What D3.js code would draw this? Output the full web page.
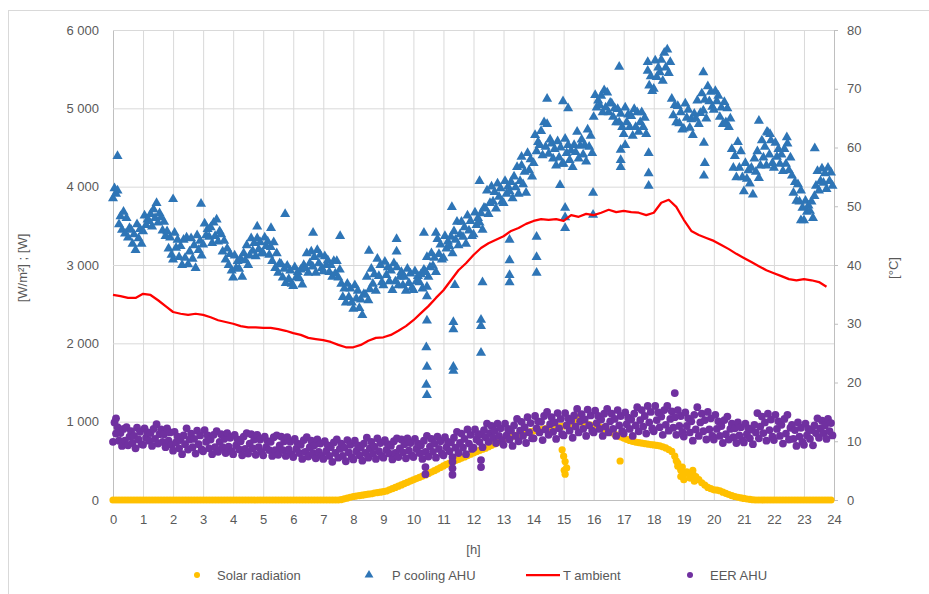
<!DOCTYPE html>
<html>
<head>
<meta charset="utf-8">
<script src="https://cdn.jsdelivr.net/npm/d3@7/dist/d3.min.js"></script>
<style>
    body { margin: 0; background: #fff; }
    svg text { font-family: "Liberation Sans", Arial, sans-serif; fill: #595959; }
</style>
</head>
<body>
<div id="chart"></div>
<script>

var hourTicks = [0, 1, 2, 3, 4, 5, 6, 7, 8, 9, 10, 11, 12, 13, 14, 15, 16, 17, 18, 19, 20, 21, 22, 23, 24];
var leftTicks = [0, 1000, 2000, 3000, 4000, 5000, 6000];
var rightTicks = [0, 10, 20, 30, 40, 50, 60, 70, 80];
var seriesNames = ['Solar radiation', 'P cooling AHU', 'T ambient', 'EER AHU'];
var axisTitles = {x: '[h]', left: '[W/m²] ; [W]', right: '[°C]'};

// sample steps in hours
var coolingStep = 0.05;
var eerStep = 0.05;
var solarStep = 0.1;
var tempStep = 0.25;

// P cooling AHU [W], one row per hour
var pCooling = [
    3850, 3980, 3910, 3950, 3520, 3620, 3450, 3680, 3400, 3600, 3350, 3470, 3450, 3270, 3390, 3190, 3520, 3340, 3460, 3270,
    3430, 3630, 3510, 3580, 3560, 3650, 3490, 3710, 3600, 3790, 3540, 3660, 3610, 3440, 3550, 3370, 3430, 3210, 3350, 3130,
    3070, 3410, 3220, 3320, 3100, 3240, 3000, 3320, 3090, 3350, 3010, 3170, 3340, 3080, 3250, 2960, 3380, 3190, 3310, 3120,
    3260, 3530, 3380, 3460, 3360, 3480, 3280, 3540, 3370, 3580, 3300, 3430, 3390, 3170, 3310, 3070, 3210, 3000, 3140, 2930,
    2840, 3120, 2960, 3050, 2950, 3080, 2850, 3150, 3060, 3250, 3000, 3120, 3340, 3180, 3280, 3110, 3340, 3200, 3290, 3150,
    3150, 3350, 3240, 3300, 3130, 3230, 3050, 3290, 2960, 3150, 2900, 3020, 3010, 2840, 2950, 2770, 2990, 2820, 2930, 2760,
    2730, 2970, 2840, 2910, 2830, 2940, 2750, 3000, 2960, 3150, 2900, 3020, 3170, 2980, 3100, 2900, 3190, 3020, 3130, 2960,
    2920, 3110, 3000, 3060, 2910, 3000, 2850, 3050, 2890, 3050, 2840, 2940, 2760, 2590, 2700, 2520, 2760, 2590, 2700, 2520,
    2440, 2740, 2570, 2670, 2450, 2560, 2360, 2630, 2620, 2850, 2550, 2690, 2950, 2760, 2880, 2670, 3080, 2860, 3000, 2780,
    2740, 3040, 2870, 2970, 2790, 2930, 2680, 3020, 2790, 2970, 2740, 2850, 2910, 2740, 2850, 2670, 2950, 2770, 2890, 2710,
    2680, 2920, 2790, 2860, 2780, 2880, 2700, 2940, 2910, 3100, 2850, 2970, 3150, 2990, 3090, 2910, 3330, 3140, 3260, 3070,
    3090, 3370, 3210, 3300, 3240, 3360, 3150, 3430, 3320, 3550, 3250, 3390, 3550, 3360, 3480, 3270, 3630, 3440, 3560, 3370,
    3390, 3670, 3510, 3600, 3540, 3660, 3450, 3730, 3720, 3950, 3650, 3790, 4000, 3810, 3930, 3720, 4040, 3870, 3980, 3810,
    3790, 4070, 3910, 4000, 3940, 4060, 3850, 4130, 3990, 4250, 3910, 4070, 4270, 4030, 4190, 3920, 4430, 4210, 4350, 4130,
    4300, 4660, 4450, 4570, 4530, 4710, 4400, 4820, 4510, 4800, 4420, 4600, 4550, 4360, 4480, 4270, 4580, 4370, 4500, 4290,
    4290, 4610, 4430, 4530, 4340, 4460, 4250, 4530, 4440, 4700, 4360, 4520, 4600, 4410, 4530, 4320, 4730, 4510, 4650, 4430,
    4890, 5170, 5010, 5100, 5040, 5160, 4950, 5230, 5010, 5200, 4950, 5070, 5060, 4890, 5000, 4820, 4990, 4820, 4930, 4760,
    4670, 5010, 4820, 4920, 4760, 4900, 4650, 4990, 4760, 4950, 4700, 4820, 4950, 4760, 4880, 4670, 5480, 5290, 5410, 5220,
    5250, 5610, 5400, 5520, 5460, 5620, 5350, 5710, 5520, 5750, 5450, 5590, 5120, 4910, 5040, 4820, 5030, 4810, 4950, 4730,
    4740, 5060, 4880, 4980, 4750, 4860, 4660, 4930, 4870, 5100, 4800, 4940, 5190, 4970, 5110, 4870, 5280, 5090, 5210, 5020,
    4980, 5220, 5090, 5160, 4890, 5010, 4800, 5080, 4820, 5000, 4760, 4870, 4480, 4240, 4390, 4120, 4570, 4240, 4450, 4120,
    3940, 4300, 4100, 4210, 4040, 4240, 3900, 4360, 4190, 4450, 4110, 4270, 4590, 4370, 4510, 4270, 4690, 4410, 4590, 4300,
    4240, 4560, 4380, 4480, 4290, 4410, 4200, 4480, 4290, 4550, 4210, 4370, 4140, 3920, 4060, 3820, 4030, 3810, 3950, 3730,
    3570, 3820, 3680, 3760, 3690, 3810, 3600, 3880, 4010, 4200, 3950, 4070, 4230, 4050, 4170, 3970, 4240, 4070, 4180, 4010
];

// isolated P cooling readings [hour, W]
var pCoolingSparse = [
    [0.15, 4390], [2.0, 3840], [2.93, 3780], [4.8, 3490], [5.26, 3470], [5.73, 3650], [6.66, 3410], [7.56, 3370],
    [8.52, 3180], [9.44, 3330], [9.44, 3170], [10.35, 3410], [10.75, 3410], [11.28, 3740],
    [10.45, 2720], [10.45, 2600], [10.45, 2290], [10.43, 1950], [10.45, 1700], [10.43, 1470], [10.45, 1340],
    [11.38, 2745], [11.33, 2270], [11.33, 2180], [11.33, 1700], [11.33, 1650],
    [12.3, 2780], [12.25, 2300], [12.25, 2220], [12.25, 1880], [12.2, 4070],
    [13.2, 3320], [13.2, 3060], [13.2, 2870], [13.2, 2780], [13.6, 4380],
    [14.1, 3360], [14.1, 3100], [14.1, 2900], [14.45, 5120], [14.98, 5090], [15.15, 5000], [14.88, 4020],
    [15.05, 3730], [15.05, 3610], [15.05, 3470], [15.98, 3920], [15.98, 3640],
    [16.85, 5530], [16.9, 4470], [16.9, 4340], [16.9, 4250], [17.05, 4530], [17.8, 5590],
    [17.83, 4430], [17.83, 4170], [17.83, 4010], [19.65, 5460], [19.67, 4560], [19.7, 4300], [19.67, 4140],
    [21.5, 4840], [21.77, 4700], [21.87, 4670], [22.43, 4630], [23.36, 4490], [22.9, 3570]
];

// EER AHU [-], right axis, one row per hour
var eer = [
    9.9, 13.2, 11.3, 12.4, 10.1, 11.4, 9.2, 12.1, 10.1, 12.4, 9.3, 10.8, 11.7, 9.7, 10.9, 8.8, 12.3, 10.3, 11.6, 9.5,
    9.4, 12.2, 10.6, 11.5, 10.1, 11.4, 9.2, 12.1, 10.4, 12.9, 9.6, 11.2, 12.0, 9.9, 11.2, 9.0, 12.2, 10.1, 11.5, 9.4,
    8.4, 11.6, 9.8, 10.8, 8.8, 10.2, 7.8, 11.0, 9.5, 12.2, 8.6, 10.3, 11.3, 9.0, 10.4, 7.9, 11.8, 9.5, 11.0, 8.6,
    8.3, 11.9, 9.9, 11.0, 8.8, 10.3, 7.8, 11.1, 9.0, 11.7, 8.2, 9.9, 11.2, 9.0, 10.4, 8.0, 11.4, 9.1, 10.6, 8.3,
    7.8, 11.1, 9.3, 10.3, 8.6, 10.0, 7.6, 10.8, 8.7, 11.4, 7.9, 9.6, 11.2, 8.8, 10.3, 7.7, 11.1, 9.0, 10.3, 8.2,
    7.6, 10.8, 9.0, 10.0, 8.5, 9.9, 7.5, 10.7, 8.5, 11.0, 7.7, 9.3, 10.8, 8.5, 10.0, 7.5, 10.7, 8.6, 9.9, 7.8,
    7.3, 10.4, 8.7, 9.6, 8.0, 9.4, 7.0, 10.2, 8.2, 10.7, 7.4, 9.0, 10.1, 8.0, 9.3, 7.1, 10.3, 8.2, 9.6, 7.5,
    7.0, 10.0, 8.3, 9.3, 7.5, 9.0, 6.5, 9.8, 8.0, 10.3, 7.2, 8.7, 9.6, 7.5, 8.9, 6.6, 10.2, 8.1, 9.4, 7.3,
    6.9, 10.1, 8.3, 9.3, 7.6, 8.9, 6.7, 9.6, 8.0, 10.6, 7.2, 8.8, 9.9, 7.9, 9.1, 7.0, 10.5, 8.3, 9.7, 7.5,
    7.2, 10.2, 8.5, 9.5, 7.9, 9.2, 6.9, 10.0, 8.0, 10.5, 7.3, 8.8, 10.3, 8.1, 9.5, 7.1, 10.5, 8.4, 9.7, 7.6,
    7.3, 10.4, 8.7, 9.6, 8.0, 9.3, 7.0, 10.1, 8.2, 10.9, 7.4, 9.1, 10.4, 8.2, 9.6, 7.2, 10.8, 8.7, 10.0, 7.9,
    7.6, 10.7, 9.0, 9.9, 8.3, 9.8, 7.3, 10.6, 8.9, 11.6, 8.0, 9.7, 11.3, 8.9, 10.4, 7.8, 12.0, 9.6, 11.1, 8.7,
    8.9, 12.0, 10.3, 11.2, 9.9, 11.2, 9.0, 11.9, 10.7, 13.0, 9.9, 11.4, 12.6, 10.6, 11.8, 9.7, 13.0, 10.9, 12.2, 10.1,
    9.4, 13.0, 11.0, 12.1, 10.3, 11.8, 9.2, 12.7, 10.9, 13.8, 10.0, 11.8, 13.3, 10.9, 12.4, 9.7, 14.1, 11.5, 13.1, 10.5,
    10.5, 14.3, 12.2, 13.4, 11.5, 13.3, 10.2, 14.3, 12.0, 15.0, 11.1, 12.9, 14.1, 11.6, 13.2, 10.4, 14.8, 12.2, 13.8, 11.2,
    11.0, 14.8, 12.7, 13.9, 11.8, 13.5, 10.6, 14.4, 12.5, 15.5, 11.5, 13.4, 14.6, 12.1, 13.7, 10.9, 15.4, 12.7, 14.4, 11.8,
    11.5, 15.2, 13.1, 14.3, 12.1, 13.7, 10.9, 14.7, 12.5, 15.5, 11.5, 13.4, 14.7, 12.1, 13.8, 10.9, 15.3, 12.7, 14.3, 11.7,
    11.3, 14.9, 12.9, 14.0, 12.1, 13.7, 10.9, 14.7, 12.7, 15.8, 11.7, 13.6, 15.3, 12.5, 14.3, 11.3, 16.0, 13.2, 15.0, 12.2,
    11.7, 16.0, 13.6, 14.9, 12.4, 14.2, 11.1, 15.3, 12.8, 16.0, 11.8, 13.8, 15.1, 12.3, 14.1, 11.1, 15.3, 12.6, 14.3, 11.6,
    10.8, 14.9, 12.6, 13.9, 11.5, 13.4, 10.1, 14.5, 12.0, 15.8, 10.9, 13.2, 14.7, 11.7, 13.6, 10.3, 15.0, 12.0, 13.9, 10.9,
    10.3, 14.5, 12.1, 13.4, 10.9, 12.6, 9.7, 13.6, 11.2, 14.2, 10.3, 12.1, 13.0, 10.7, 12.2, 9.7, 13.2, 11.0, 12.4, 10.2,
    9.8, 13.0, 11.2, 12.2, 10.5, 12.0, 9.5, 12.8, 11.5, 14.8, 10.5, 12.5, 14.2, 11.4, 13.2, 10.1, 14.7, 11.9, 13.7, 10.8,
    10.2, 14.5, 12.1, 13.4, 10.9, 12.8, 9.6, 13.8, 11.3, 14.5, 10.3, 12.3, 12.8, 10.4, 11.9, 9.2, 13.2, 10.8, 12.3, 9.9,
    9.4, 13.0, 11.0, 12.1, 10.4, 11.9, 9.3, 12.7, 11.4, 13.9, 10.6, 12.2, 13.5, 11.4, 12.7, 10.4, 13.8, 11.7, 13.1, 11.0
];

var eerSparse = [
    [0.1, 13.9], [10.4, 5.6], [10.4, 4.4], [11.3, 6.5], [11.3, 5.4], [11.3, 4.3], [12.25, 6.8], [12.25, 5.6], [18.7, 18.2]
];

// Solar radiation [W/m2], one row per hour
var solar = [
    0, 0, 0, 0, 0, 0, 0, 0, 0, 0,
    0, 0, 0, 0, 0, 0, 0, 0, 0, 0,
    0, 0, 0, 0, 0, 0, 0, 0, 0, 0,
    0, 0, 0, 0, 0, 0, 0, 0, 0, 0,
    0, 0, 0, 0, 0, 0, 0, 0, 0, 0,
    0, 0, 0, 0, 0, 0, 0, 0, 0, 0,
    0, 0, 0, 0, 0, 0, 0, 0, 0, 0,
    0, 0, 0, 0, 0, 0, 5, 15, 25, 35,
    45, 50, 55, 62, 68, 75, 80, 88, 95, 100,
    106, 115, 130, 145, 160, 176, 193, 210, 226, 242,
    258, 274, 290, 305, 320, 338, 356, 375, 395, 415,
    435, 455, 470, 487, 503, 518, 535, 550, 567, 584,
    600, 617, 633, 648, 662, 680, 698, 716, 735, 755,
    775, 790, 803, 815, 826, 836, 846, 855, 864, 872,
    880, 888, 896, 903, 910, 918, 925, 930, 935, 938,
    945, 950, 960, 990, 1030, 1060, 990, 970, 965, 955,
    950, 945, 935, 925, 900, 880, 860, 840, 825, 805,
    790, 775, 760, 748, 740, 733, 726, 720, 714, 708,
    703, 698, 690, 680, 665, 645, 620, 560, 470, 380,
    330, 360, 310, 340, 300, 260, 220, 190, 160, 145,
    130, 125, 118, 100, 85, 70, 55, 45, 35, 28,
    20, 13, 8, 3, 0, 0, 0, 0, 0, 0,
    0, 0, 0, 0, 0, 0, 0, 0, 0, 0,
    0, 0, 0, 0, 0, 0, 0, 0, 0, 0
];

var solarSparse = [
    [14.95, 640], [15.0, 560], [15.05, 490], [15.02, 380], [15.05, 330], [15.1, 410],
    [16.88, 498], [18.75, 500], [18.8, 430], [18.9, 300], [18.95, 420], [19.0, 260],
    [19.1, 350], [19.2, 280], [19.3, 380], [19.35, 240]
];

// T ambient [°C], every 15 minutes
var tAmbient = [
    34.9, 34.7, 34.4, 34.4, 35.1, 34.9, 34.0, 33.0, 32.0, 31.7, 31.5, 31.7,
    31.5, 31.1, 30.6, 30.3, 30.0, 29.6, 29.4, 29.4, 29.3, 29.3, 29.1, 28.8,
    28.4, 28.1, 27.6, 27.4, 27.2, 26.9, 26.4, 26.0, 26.0, 26.4, 27.1, 27.6,
    27.7, 28.1, 28.8, 29.6, 30.6, 31.8, 33.0, 34.4, 35.7, 37.4, 39.1, 40.3,
    41.7, 42.9, 43.7, 44.3, 44.9, 45.8, 46.3, 47.0, 47.5, 47.8, 47.7, 47.8,
    47.5, 48.5, 48.2, 48.7, 48.5, 48.9, 49.4, 49.0, 49.2, 49.0, 48.9, 48.5,
    48.9, 50.6, 51.1, 49.9, 47.7, 45.8, 45.1, 44.6, 44.1, 43.4, 42.7, 41.9,
    41.2, 40.5, 39.8, 39.1, 38.6, 38.1, 37.6, 37.4, 37.6, 37.4, 37.1, 36.3
];


class DayChart {


    constructor() {

        this._width = 929;
        this._height = 594;
        this._margin = {
            left: 113,
            top: 30,
            right: 95,
            bottom: 94
        };
        this._colors = ['#FFC000', '#2E75B6', '#FF0000', '#7030A0'];
        this._gridColor = '#d9d9d9';
        this._axisColor = '#bfbfbf';
        this._fontSize = 13;
    }


    renderTo(selector) {

        var x = this._getXScale();
        var yLeft = this._getLeftScale();
        var yRight = this._getRightScale();
        var innerWidth = this._width - this._margin.left - this._margin.right;
        var innerHeight = this._height - this._margin.top - this._margin.bottom;
        var bottom = this._height - this._margin.bottom;
        var locale = d3.formatLocale({decimal: ',', thousands: ' ', grouping: [3], currency: ['', '']});

        this._svg = d3.select(selector)
            .append('svg')
            .attr('width', this._width)
            .attr('height', this._height);

        this._svg.append('rect')
            .attr('x', 8.5)
            .attr('y', 10.5)
            .attr('width', 940)
            .attr('height', 600)
            .style('fill', 'none')
            .style('stroke', this._gridColor);

        // vertical grid
        this._svg.append('g')
            .attr('transform', 'translate(0,' + bottom + ')')
            .call(d3.axisBottom(x).tickValues(hourTicks).tickSize(-innerHeight).tickFormat(''))
            .call(g => g.select('.domain').remove())
            .call(g => g.selectAll('line').style('stroke', this._gridColor));

        // left axis with horizontal grid
        this._svg.append('g')
            .attr('transform', 'translate(' + this._margin.left + ',0)')
            .call(d3.axisLeft(yLeft).tickValues(leftTicks).tickSize(-innerWidth).tickPadding(14).tickFormat(locale.format(',')))
            .call(g => g.select('.domain').style('stroke', this._axisColor))
            .call(g => g.selectAll('line').style('stroke', this._gridColor))
            .call(g => g.selectAll('text').style('font-size', this._fontSize + 'px'));

        // right axis
        this._svg.append('g')
            .attr('transform', 'translate(' + (this._margin.left + innerWidth) + ',0)')
            .call(d3.axisRight(yRight).tickValues(rightTicks).tickSize(4).tickPadding(9))
            .call(g => g.selectAll('.domain, line').style('stroke', this._axisColor))
            .call(g => g.selectAll('text').style('font-size', this._fontSize + 'px'));

        // bottom axis
        this._svg.append('g')
            .attr('transform', 'translate(0,' + bottom + ')')
            .call(d3.axisBottom(x).tickValues(hourTicks).tickSize(0).tickPadding(15))
            .call(g => g.select('.domain').style('stroke', this._axisColor))
            .call(g => g.selectAll('text').style('font-size', this._fontSize + 'px'));

        this._drawTitles(innerWidth);

        var canvas = this._svg.append('g').attr('class', 'canvas');

        var solarPoints = this._toPoints(solar, solarStep, solarSparse);
        var coolingPoints = this._toPoints(pCooling, coolingStep, pCoolingSparse);
        var eerPoints = this._toPoints(eer, eerStep, eerSparse);
        var tempPoints = tAmbient.map((v, i) => ({hour: i * tempStep, value: v}));

        canvas.append('g')
            .selectAll('circle')
            .data(solarPoints)
            .enter()
            .append('circle')
            .attr('cx', d => x(d.hour))
            .attr('cy', d => yLeft(d.value))
            .attr('r', 3.6)
            .style('fill', this._colors[0]);

        var triangle = d3.symbol().type(d3.symbolTriangle).size(44);

        canvas.append('g')
            .selectAll('path')
            .data(coolingPoints)
            .enter()
            .append('path')
            .attr('d', triangle)
            .attr('transform', d => 'translate(' + [x(d.hour), yLeft(d.value)] + ')')
            .style('fill', this._colors[1]);

        canvas.append('path')
            .datum(tempPoints)
            .attr('d', d3.line().x(d => x(d.hour)).y(d => yRight(d.value)))
            .style('fill', 'none')
            .style('stroke', this._colors[2])
            .style('stroke-width', 2.25)
            .style('stroke-linejoin', 'round');

        canvas.append('g')
            .selectAll('circle')
            .data(eerPoints)
            .enter()
            .append('circle')
            .attr('cx', d => x(d.hour))
            .attr('cy', d => yRight(d.value))
            .attr('r', 3.9)
            .style('fill', this._colors[3]);

        this._drawLegend(d3.symbol().type(d3.symbolTriangle).size(34));

        return this;
    }


    _drawTitles(innerWidth) {

        var midY = this._margin.top + (this._height - this._margin.top - this._margin.bottom) / 2 + 3;

        this._svg.append('text')
            .attr('x', this._margin.left + innerWidth / 2)
            .attr('y', 549)
            .attr('dy', '0.35em')
            .attr('text-anchor', 'middle')
            .style('font-size', this._fontSize + 'px')
            .text(axisTitles.x);

        this._svg.append('text')
            .attr('transform', 'translate(22,' + midY + ') rotate(-90)')
            .attr('dy', '0.35em')
            .attr('text-anchor', 'middle')
            .style('font-size', this._fontSize + 'px')
            .text(axisTitles.left);

        this._svg.append('text')
            .attr('transform', 'translate(893,' + midY + ') rotate(-90)')
            .attr('dy', '0.35em')
            .attr('text-anchor', 'middle')
            .style('font-size', this._fontSize + 'px')
            .text(axisTitles.right);
    }


    _drawLegend(triangle) {

        var y = 575;
        var items = [
            {symbolX: 197, textX: 217},
            {symbolX: 369, textX: 392},
            {symbolX: 526, textX: 563},
            {symbolX: 690, textX: 710}
        ];

        var legend = this._svg.append('g').attr('class', 'legend');

        items.forEach(function(item, i) {
            if (i == 1) {
                legend.append('path')
                    .attr('d', triangle)
                    .attr('transform', 'translate(' + [item.symbolX, y] + ')')
                    .style('fill', this._colors[i]);
            } else if (i == 2) {
                legend.append('line')
                    .attr('x1', item.symbolX)
                    .attr('x2', item.textX - 3)
                    .attr('y1', y)
                    .attr('y2', y)
                    .style('stroke', this._colors[i])
                    .style('stroke-width', 2.25);
            } else {
                legend.append('circle')
                    .attr('cx', item.symbolX)
                    .attr('cy', y)
                    .attr('r', 3)
                    .style('fill', this._colors[i]);
            }
            legend.append('text')
                .attr('x', item.textX)
                .attr('y', y)
                .attr('dy', '0.35em')
                .style('font-size', this._fontSize + 'px')
                .text(seriesNames[i]);
        }.bind(this));
    }


    _toPoints(values, step, sparse) {

        return values
            .map((v, i) => ({hour: i * step, value: v}))
            .concat(sparse.map(d => ({hour: d[0], value: d[1]})));
    }


    _getXScale() {

        return d3.scaleLinear()
            .domain([0, 24])
            .range([this._margin.left, this._width - this._margin.right]);
    }


    _getLeftScale() {

        return d3.scaleLinear()
            .domain([0, 6000])
            .range([this._height - this._margin.bottom, this._margin.top]);
    }


    _getRightScale() {

        return d3.scaleLinear()
            .domain([0, 80])
            .range([this._height - this._margin.bottom, this._margin.top]);
    }
}

new DayChart().renderTo('#chart');

</script>
</body>
</html>
